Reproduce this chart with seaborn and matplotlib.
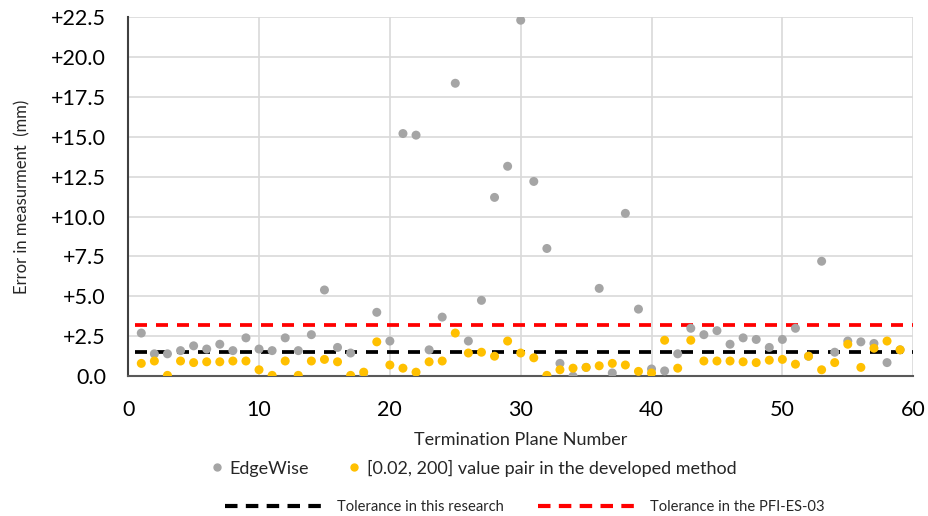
import pandas as pd
import matplotlib.pyplot as plt
import seaborn as sns
from matplotlib.lines import Line2D

# Termination plane numbers and measurement errors (mm)
planes = list(range(1, 60))
edgewise = [2.7, 1.4, 1.4, 1.6, 1.9, 1.7, 2.0, 1.6, 2.4, 1.7,
            1.6, 2.4, 1.6, 2.6, 5.4, 1.8, 1.45, 0.0, 4.0, 2.2,
            15.2, 15.1, 1.65, 3.7, 18.35, 2.2, 4.75, 11.2, 13.15, 22.3,
            12.2, 8.0, 0.8, 0.0, 0.55, 5.5, 0.2, 10.2, 4.2, 0.45,
            0.33, 1.4, 3.0, 2.6, 2.85, 2.0, 2.4, 2.3, 1.8, 2.3,
            3.0, 1.25, 7.2, 1.5, 2.2, 2.15, 2.05, 0.85, 1.65]
developed = [0.8, 0.95, 0.05, 0.95, 0.85, 0.9, 0.9, 0.95, 0.95, 0.4,
             0.05, 0.95, 0.05, 0.95, 1.05, 0.9, 0.05, 0.25, 2.15, 0.7,
             0.5, 0.25, 0.9, 0.95, 2.7, 1.45, 1.5, 1.25, 2.2, 1.45,
             1.15, 0.05, 0.4, 0.5, 0.55, 0.65, 0.8, 0.7, 0.3, 0.2,
             2.25, 0.5, 2.25, 0.95, 0.95, 0.95, 0.9, 0.85, 1.0, 1.05,
             0.75, 1.25, 0.4, 0.85, 2.0, 0.55, 1.75, 2.2, 1.65]

# Tolerance lines
tol_x = [0.5, 60]
tol_research = [1.5, 1.5]
tol_pfi = [3.2, 3.2]

df = pd.DataFrame({'plane': planes, 'edgewise': edgewise, 'developed': developed})
tol = pd.DataFrame({'x': tol_x, 'research': tol_research, 'pfi': tol_pfi})

sns.set_style('white')
plt.rcParams['font.family'] = ['Lato', 'DejaVu Sans']

gray = '#a5a5a5'
gold = '#ffc000'
dash = (0, (3.2, 2.4))

fig = plt.figure(figsize=(9.29, 5.16), dpi=100)
ax = fig.add_axes([0.138, 0.271, 0.845, 0.696])

sns.lineplot(data=tol, x='x', y='pfi', ax=ax, color='#ff0000', lw=2.7,
             dashes=False, linestyle=dash, zorder=2)
sns.lineplot(data=tol, x='x', y='research', ax=ax, color='black', lw=2.7,
             dashes=False, linestyle=dash, zorder=2)
sns.scatterplot(data=df, x='plane', y='edgewise', ax=ax, color=gray,
                s=42, edgecolor='none', zorder=3)
sns.scatterplot(data=df, x='plane', y='developed', ax=ax, color=gold,
                s=42, edgecolor='none', zorder=4)

ax.set_xlim(0, 60)
ax.set_ylim(0, 22.5)
ax.set_xticks(range(0, 61, 10))
yt = [i * 2.5 for i in range(10)]
ax.set_yticks(yt)
ax.set_yticklabels(['0.0'] + ['+%.1f' % v for v in yt[1:]])
ax.grid(True, color='#d9d9d9', lw=1.2)
ax.set_axisbelow(True)
for s in ['top', 'right']:
    ax.spines[s].set_visible(False)
ax.spines['left'].set_color('#404040')
ax.spines['bottom'].set_color('#595959')
ax.spines['left'].set_linewidth(1.5)
ax.spines['bottom'].set_linewidth(1.5)
ax.tick_params(axis='both', labelsize=15.5, length=0, colors='#000000')
ax.tick_params(axis='x', pad=17)
ax.tick_params(axis='y', pad=16)
ax.set_xlabel('Termination Plane Number', fontsize=13, labelpad=9)
ax.set_ylabel('Error in measurment  (mm)', fontsize=12, labelpad=15)

h1 = [Line2D([], [], marker='o', ls='none', color=gray, markersize=5),
      Line2D([], [], marker='o', ls='none', color=gold, markersize=5)]
fig.legend(h1, ['EdgeWise', '[0.02, 200] value pair in the developed method'],
           loc='center', bbox_to_anchor=(0.51, 0.093), ncol=2, frameon=False,
           fontsize=13, handlelength=0.6, handletextpad=0.4, columnspacing=2.2)
h2 = [Line2D([], [], color='black', lw=3, linestyle=(0, (3, 2))),
      Line2D([], [], color='#ff0000', lw=3, linestyle=(0, (3, 2)))]
fig.legend(h2, ['Tolerance in this research', 'Tolerance in the PFI-ES-03'],
           loc='center', bbox_to_anchor=(0.565, 0.018), ncol=2, frameon=False,
           fontsize=10.6, handlelength=6.8, handletextpad=0.8, columnspacing=2.3)

fig.savefig('out.png', dpi=100)
